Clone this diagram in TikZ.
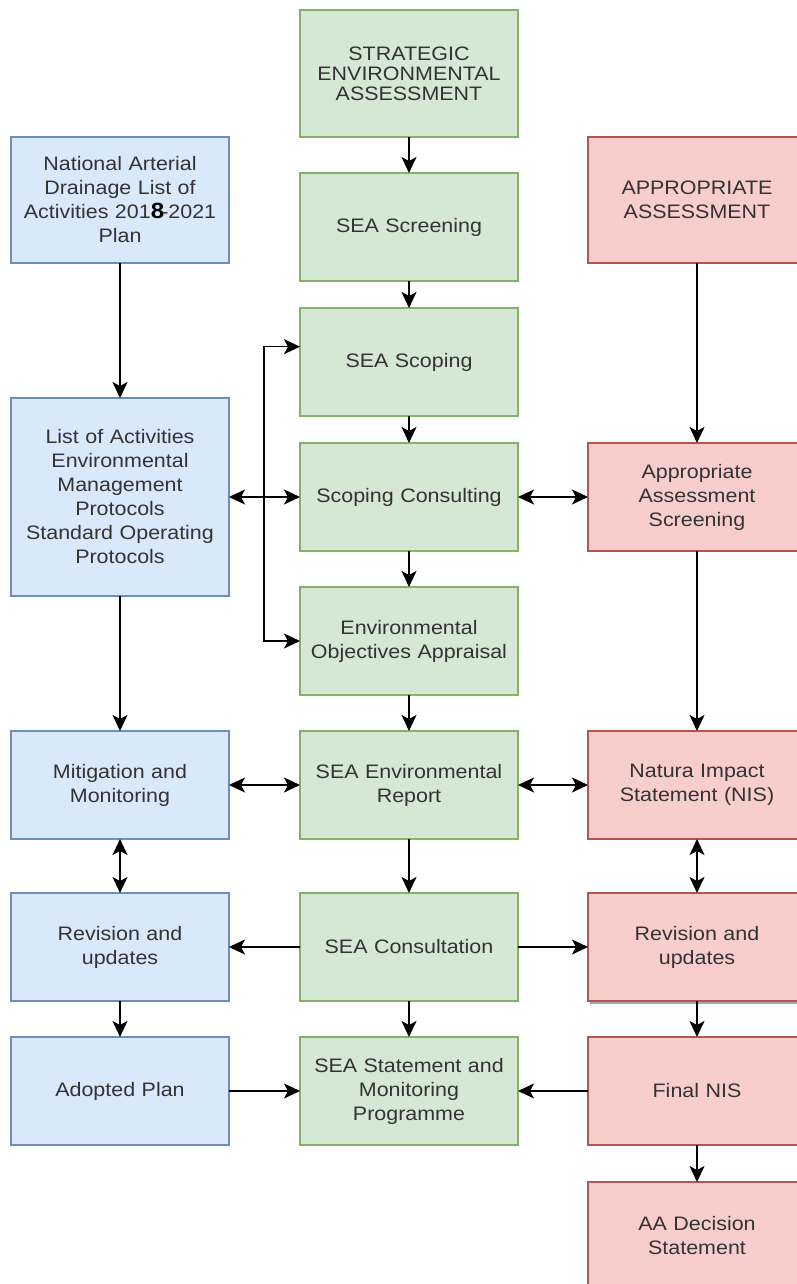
\documentclass[tikz,border=0pt]{standalone}
\usepackage{fontspec}
\setmainfont{Liberation Sans}[FakeStretch=1.1]
\usepackage{tikz}
\usetikzlibrary{arrows.meta,shadows}

\definecolor{bluefill}{HTML}{DAE8FC}
\definecolor{blueline}{HTML}{6C8EBF}
\definecolor{greenfill}{HTML}{D5E8D4}
\definecolor{greenline}{HTML}{82B366}
\definecolor{redfill}{HTML}{F8CECC}
\definecolor{redline}{HTML}{B85450}
\definecolor{boxtext}{HTML}{333333}

\tikzset{
  box/.style={draw, line width=1.1pt, anchor=north west, minimum width=218pt, minimum height=108pt,
    text width=200pt, align=center, inner sep=0pt, outer sep=0pt, text=boxtext,
    font=\fontsize{19.5}{24}\selectfont},
  bluebox/.style={box, fill=bluefill, draw=blueline},
  greenbox/.style={box, fill=greenfill, draw=greenline},
  redbox/.style={box, fill=redfill, draw=redline},
  arr/.style={line width=1.6pt, -{Stealth[length=16pt,width=15pt,inset=4pt]}},
  darr/.style={line width=1.6pt, {Stealth[length=16pt,width=15pt,inset=4pt]}-{Stealth[length=16pt,width=15pt,inset=4pt]}},
}

\begin{document}
\begin{tikzpicture}[x=1pt,y=1pt,yscale=-1]
\clip (0,0) rectangle (797,1284);
\fill[white] (0,0) rectangle (797,1284);

%Shape: Rectangle -- SEA column
\node[greenbox, minimum height=127pt, font=\fontsize{19.5}{20}\selectfont] (g1) at (300,10) {STRATEGIC\\ENVIRONMENTAL\\ASSESSMENT};
\node[greenbox] (g2) at (300,173) {SEA Screening};
\node[greenbox] (g3) at (300,308) {SEA Scoping};
\node[greenbox] (g4) at (300,443) {Scoping Consulting};
\node[greenbox] (g5) at (300,587) {Environmental\\Objectives Appraisal};
\node[greenbox] (g6) at (300,731) {SEA Environmental\\Report};
\node[greenbox] (g7) at (300,893) {SEA Consultation};
\node[greenbox] (g8) at (300,1037) {SEA Statement and\\Monitoring\\Programme};

%Shape: Rectangle -- plan column
\node[bluebox, minimum height=126pt] (b1) at (11,137) {National Arterial\\Drainage List of\\Activities 201{\color{black}\bfseries\fontsize{22}{24}\selectfont 8}\kern-3pt-2021\\Plan};
\node[bluebox, minimum height=198pt] (b2) at (11,398) {List of Activities\\Environmental\\Management\\Protocols\\Standard Operating\\Protocols\\[10pt]};
\node[bluebox] (b3) at (11,731) {Mitigation and\\Monitoring};
\node[bluebox] (b4) at (11,893) {Revision and\\updates};
\node[bluebox] (b5) at (11,1037) {Adopted Plan};

%Shape: Rectangle -- AA column
\node[redbox, minimum height=126pt] (r1) at (588,137) {APPROPRIATE\\ASSESSMENT\\[28pt]};
\node[redbox] (r2) at (588,443) {Appropriate\\Assessment\\Screening};
\node[redbox] (r3) at (588,731) {Natura Impact\\Statement (NIS)};
\node[redbox, drop shadow={shadow xshift=2pt, shadow yshift=-3pt, fill=black, opacity=0.35}] (r4) at (588,893) {Revision and\\updates};
\node[redbox] (r5) at (588,1037) {Final NIS};
\node[redbox] (r6) at (588,1182) {AA Decision\\Statement};

%Straight Lines -- down the columns
\draw[arr] (g1) -- (g2);
\draw[arr] (g2) -- (g3);
\draw[arr] (g3) -- (g4);
\draw[arr] (g4) -- (g5);
\draw[arr] (g5) -- (g6);
\draw[arr] (g6) -- (g7);
\draw[arr] (g7) -- (g8);
\draw[arr] (b1) -- (b2);
\draw[arr] (b2) -- (b3);
\draw[darr] (b3) -- (b4);
\draw[arr] (b4) -- (b5);
\draw[arr] (r1) -- (r2);
\draw[arr] (r2) -- (r3);
\draw[darr] (r3) -- (r4);
\draw[arr] (r4) -- (r5);
\draw[arr] (r5) -- (r6);

%Straight Lines -- across
\draw[darr] (b2) -- (g4);
\draw[darr] (g4) -- (r2);
\draw[darr] (b3) -- (g6);
\draw[darr] (g6) -- (r3);
\draw[arr] (g7) -- (b4);
\draw[arr] (g7) -- (r4);
\draw[arr] (b5) -- (g8);
\draw[arr] (r5) -- (g8);

%Straight Lines -- scoping bracket
\coordinate (jn) at (264,497);
\draw[arr] (jn) |- (g3.172);
\draw[arr] (jn) |- (g5.west);

\end{tikzpicture}
\end{document}
